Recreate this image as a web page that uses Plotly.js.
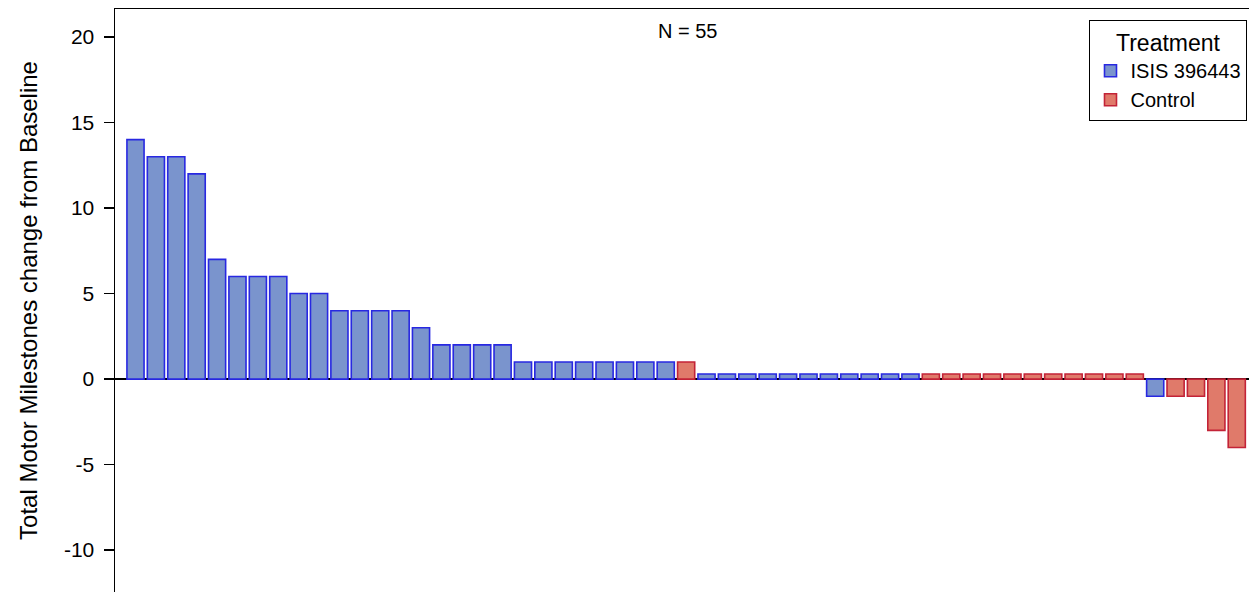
<!DOCTYPE html>
<html>
<head>
<meta charset="utf-8">
<script src="https://cdn.plot.ly/plotly-3.0.1.min.js"></script>
<style>html,body{margin:0;padding:0;background:#fff;}#chart{width:1249px;height:592px;}</style>
</head>
<body>
<div id="chart"></div>
<script>
// Patients ordered by change from baseline (waterfall), N = 55
const changeValues = [14, 13, 13, 12, 7, 6, 6, 6, 5, 5, 4, 4, 4, 4, 3, 2, 2, 2, 2,
  1, 1, 1, 1, 1, 1, 1, 1, 1,
  0.3, 0.3, 0.3, 0.3, 0.3, 0.3, 0.3, 0.3, 0.3, 0.3, 0.3,
  0.3, 0.3, 0.3, 0.3, 0.3, 0.3, 0.3, 0.3, 0.3, 0.3, 0.3,
  -1, -1, -1, -3, -4];
const treatmentGroup = ["I","I","I","I","I","I","I","I","I","I","I","I","I","I","I","I","I","I","I",
  "I","I","I","I","I","I","I","I","C",
  "I","I","I","I","I","I","I","I","I","I","I",
  "C","C","C","C","C","C","C","C","C","C","C",
  "I","C","C","C","C"];
const groupNames = {I: "ISIS 396443", C: "Control"};
const yTicks = [-10, -5, 0, 5, 10, 15, 20];

const fills = {I: "rgba(122,148,205,1)", C: "rgba(224,122,106,1)"};
const edges = {I: "rgb(40,40,225)", C: "rgb(195,35,55)"};

const traces = ["I", "C"].map(g => {
  const xs = [], ys = [];
  changeValues.forEach((v, i) => { if (treatmentGroup[i] === g) { xs.push(i); ys.push(v); } });
  return {
    type: "bar", name: groupNames[g], x: xs, y: ys, width: 0.84,
    marker: {color: fills[g], line: {color: edges[g], width: 1.6}},
    hoverinfo: "y"
  };
});

const layout = {
  width: 1249, height: 592,
  margin: {l: 115, r: 0, t: 9, b: 0, pad: 0},
  paper_bgcolor: "#fff", plot_bgcolor: "#fff",
  font: {family: "Liberation Sans, Arial, sans-serif", color: "#000"},
  barmode: "overlay",
  showlegend: true,
  xaxis: {
    range: [-1.005, 54.6], showgrid: false, zeroline: false,
    side: "top", showline: true, linecolor: "#000", linewidth: 1.5,
    showticklabels: false, ticks: ""
  },
  yaxis: {
    range: [-12.45, 21.64], tickvals: yTicks, ticktext: yTicks.map(String),
    showgrid: false, zeroline: true, zerolinecolor: "#000", zerolinewidth: 1.5,
    showline: true, linecolor: "#000", linewidth: 1.5,
    ticks: "outside", ticklen: 10, tickwidth: 1.2, tickcolor: "#000",
    ticklabelstandoff: 5,
    tickfont: {size: 21, family: "Liberation Sans, Arial, sans-serif"},
    title: {text: "Total Motor Milestones change from Baseline",
            font: {size: 24, family: "Liberation Sans, Arial, sans-serif"}, standoff: 19}
  },
  legend: {
    x: 0.9985, xanchor: "right", y: 0.981, yanchor: "top",
    bgcolor: "#fff", bordercolor: "#000", borderwidth: 1.2,
    font: {size: 20, family: "Liberation Sans, Arial, sans-serif"},
    title: {text: "Treatment", side: "top center", font: {size: 23}},
    tracegroupgap: 0, itemwidth: 30
  },
  annotations: [{
    xref: "paper", yref: "paper", x: 0.505, y: 0.962, xanchor: "center", yanchor: "middle",
    text: "N = 55", showarrow: false, font: {size: 20}
  }]
};

Plotly.newPlot("chart", traces, layout, {displayModeBar: false, staticPlot: true});
</script>
</body>
</html>
